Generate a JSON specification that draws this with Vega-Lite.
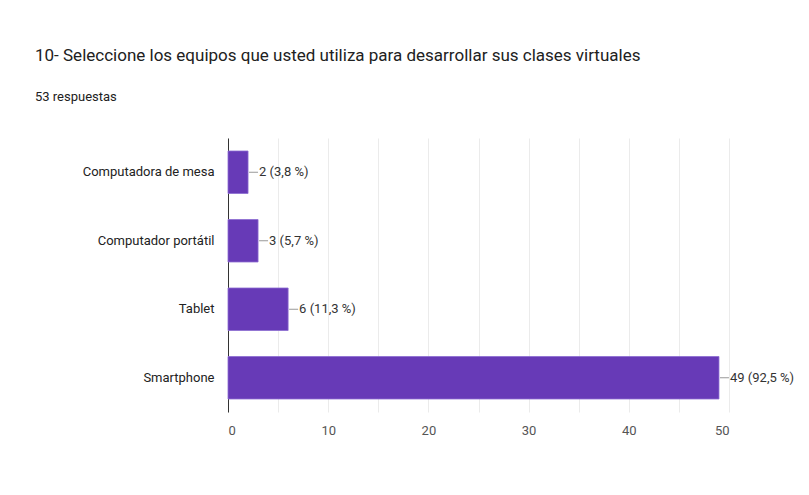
{
  "$schema": "https://vega.github.io/schema/vega-lite/v6.json",
  "width": 501,
  "height": 274,
  "padding": {"left": 35, "top": 47, "right": 8, "bottom": 40},
  "background": "white",
  "title": {
    "text": "10- Seleccione los equipos que usted utiliza para desarrollar sus clases virtuales",
    "subtitle": "53 respuestas",
    "anchor": "start",
    "frame": "group",
    "dx": -193,
    "font": "Roboto",
    "fontSize": 17,
    "fontWeight": "normal",
    "color": "#212121",
    "subtitleFont": "Roboto",
    "subtitleFontSize": 13,
    "subtitleColor": "#212121",
    "subtitlePadding": 26,
    "offset": 33
  },
  "data": {
    "values": [
      {"equipo": "Computadora de mesa", "cantidad": 2, "etiqueta": "2 (3,8 %)"},
      {"equipo": "Computador portátil", "cantidad": 3, "etiqueta": "3 (5,7 %)"},
      {"equipo": "Tablet", "cantidad": 6, "etiqueta": "6 (11,3 %)"},
      {"equipo": "Smartphone", "cantidad": 49, "etiqueta": "49 (92,5 %)"}
    ]
  },
  "encoding": {
    "y": {
      "field": "equipo",
      "type": "nominal",
      "sort": null,
      "scale": {"paddingInner": 0.38, "paddingOuter": 0.19},
      "axis": {
        "title": null,
        "ticks": false,
        "labelPadding": 14,
        "labelFont": "Roboto",
        "labelFontSize": 13,
        "labelColor": "#222222",
        "domainColor": "#333333",
        "domainWidth": 1,
        "grid": false
      }
    }
  },
  "layer": [
    {
      "mark": {"type": "bar", "color": "#673ab7", "stroke": "#8c6bd0", "strokeWidth": 0.8},
      "encoding": {
        "x": {
          "field": "cantidad",
          "type": "quantitative",
          "scale": {"domain": [0, 50], "nice": false},
          "axis": {
            "title": null,
            "values": [0, 5, 10, 15, 20, 25, 30, 35, 40, 45, 50],
            "labelExpr": "datum.value % 10 === 0 ? datum.label : ''",
            "ticks": false,
            "domain": false,
            "grid": true,
            "gridColor": "#ebebeb",
            "gridWidth": 1,
            "labelPadding": 12,
            "labelFont": "Roboto",
            "labelFontSize": 13,
            "labelColor": "#555555"
          }
        }
      }
    },
    {
      "mark": {"type": "rule", "color": "#999999", "strokeWidth": 1, "xOffset": 1, "x2Offset": 10},
      "encoding": {
        "x": {"field": "cantidad", "type": "quantitative"},
        "x2": {"field": "cantidad"}
      }
    },
    {
      "mark": {
        "type": "text",
        "align": "left",
        "baseline": "middle",
        "dx": 11,
        "font": "Roboto",
        "fontSize": 13,
        "color": "#333333"
      },
      "encoding": {
        "x": {"field": "cantidad", "type": "quantitative"},
        "text": {"field": "etiqueta"}
      }
    }
  ],
  "config": {"view": {"stroke": null}}
}
